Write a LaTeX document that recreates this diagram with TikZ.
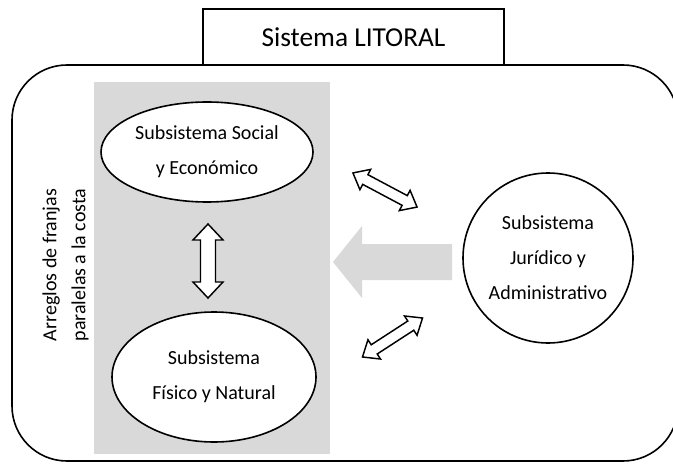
\documentclass[tikz,border=0pt]{standalone}
\usepackage{fontspec}
\setmainfont{Carlito}
\usetikzlibrary{shapes.geometric}
\definecolor{boxgray}{HTML}{D9D9D9}
\tikzset{
  frame/.style={draw=black, line width=1.2pt},
  titlebox/.style={draw=black, line width=1.2pt, fill=white, inner sep=0pt,
    minimum width=225.75pt, minimum height=42pt, font=\fontsize{20.5}{24}\selectfont},
  bubble/.style={draw=black, line width=1.2pt, fill=white, inner sep=0pt, align=center,
    font=\fontsize{15}{26.25}\selectfont},
  sidetext/.style={rotate=90, align=center, font=\fontsize{15}{21.75}\selectfont},
  arrowline/.style={draw=black, line width=1.1pt, fill=white, line join=miter},
  pics/dblarrow/.style n args={4}{code={
    \path[arrowline] (-#1,0) -- (-#1+#4,-#3) -- (-#1+#4,-#2) -- (#1-#4,-#2) -- (#1-#4,-#3)
      -- (#1,0) -- (#1-#4,#3) -- (#1-#4,#2) -- (-#1+#4,#2) -- (-#1+#4,#3) -- cycle;}}
}
\begin{document}
\begin{tikzpicture}[x=0.75pt,y=-0.75pt]
\useasboundingbox[fill=white] (0,0) rectangle (673,463);
% outer system frame
\draw[frame, rounded corners=41.25pt] (12,65) rectangle (678,461);
% gray strip
\fill[boxgray] (94,82) rectangle (330,454);
% title
\node[titlebox] (title) at (353.5,37) {Sistema LITORAL};
% side text
\node[sidetext] (franjas) at (65.5,265) {Arreglos de franjas\\paralelas a la costa};
% subsystems
\node[bubble, ellipse, minimum width=159pt, minimum height=75pt] (social) at (207,152)
  {Subsistema Social\\y Económico};
\node[bubble, ellipse, minimum width=153pt, minimum height=97.5pt] (fisico) at (214,377)
  {Subsistema\\Físico y Natural};
\node[bubble, circle, minimum size=127.5pt] (juridico) at (548,258)
  {Subsistema\\Jurídico y\\Administrativo};
% big gray arrow
\fill[boxgray] (333,262) -- (362,226) -- (362,244) -- (452,244) -- (452,280)
  -- (362,280) -- (362,298) -- cycle;
% double arrows
\pic[rotate=90] at (208,261) {dblarrow={37}{7.5}{15}{16}};
\pic[rotate=-28] at (385,190) {dblarrow={36.3}{5.5}{11.5}{14}};
\pic[rotate=33] at (392.5,337.5) {dblarrow={35.8}{5.5}{11.5}{14}};
\end{tikzpicture}
\end{document}
